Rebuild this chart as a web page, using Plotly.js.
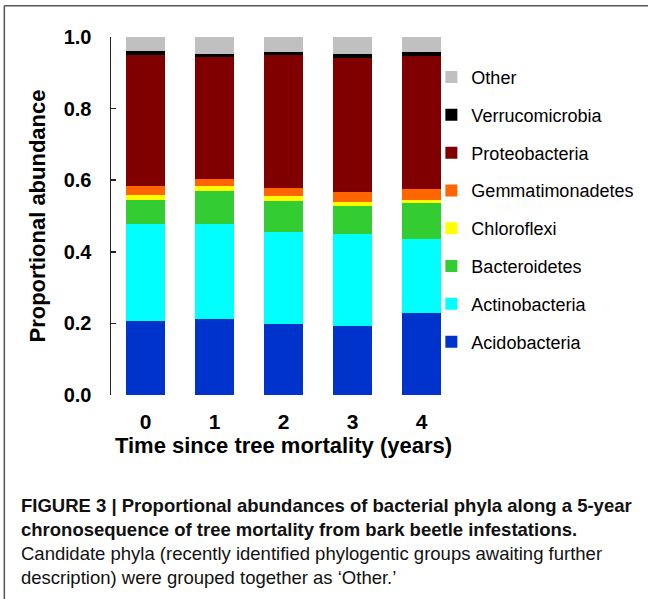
<!DOCTYPE html>
<html>
<head>
<meta charset="utf-8">
<script src="https://cdn.plot.ly/plotly-3.0.1.min.js"></script>
<style>
html,body{margin:0;padding:0;background:#fff;}
#chart{width:648px;height:599px;}
</style>
</head>
<body>
<div id="chart"></div>
<script>
const years = ['0', '1', '2', '3', '4'];
const phyla = ['Acidobacteria', 'Actinobacteria', 'Bacteroidetes', 'Chloroflexi',
               'Gemmatimonadetes', 'Proteobacteria', 'Verrucomicrobia', 'Other'];
const acidobacteria    = [0.207, 0.211, 0.199, 0.192, 0.230];
const actinobacteria   = [0.272, 0.268, 0.256, 0.258, 0.205];
const bacteroidetes    = [0.067, 0.092, 0.088, 0.077, 0.101];
const chloroflexi      = [0.013, 0.013, 0.013, 0.012, 0.010];
const gemmatimonadetes = [0.025, 0.020, 0.021, 0.028, 0.029];
const proteobacteria   = [0.367, 0.339, 0.374, 0.375, 0.371];
const verrucomicrobia  = [0.009, 0.010, 0.007, 0.011, 0.012];
const other            = [0.040, 0.047, 0.042, 0.047, 0.042];
const yTicks = [0, 0.2, 0.4, 0.6, 0.8, 1.0];
const yTickText = ['0.0', '0.2', '0.4', '0.6', '0.8', '1.0'];

const seriesValues = [acidobacteria, actinobacteria, bacteroidetes, chloroflexi,
                      gemmatimonadetes, proteobacteria, verrucomicrobia, other];
const colors = ['#0033CC', '#00FFFF', '#33CC33', '#FFFF00',
                '#FF6600', '#800000', '#000000', '#C0C0C0'];

const traces = phyla.map((name, i) => ({
  type: 'bar',
  name: name,
  x: years,
  y: seriesValues[i],
  legendgroup: name,
  legendrank: 1000 - i * 10,
  marker: {color: colors[i], line: {width: 0}},
  hoverinfo: 'name+y'
}));

const FONT = 'Liberation Sans, Arial, sans-serif';

const layout = {
  width: 648,
  height: 599,
  margin: {l: 111, r: 192.4, t: 37, b: 203.5, autoexpand: false},
  paper_bgcolor: '#ffffff',
  plot_bgcolor: '#ffffff',
  barmode: 'stack',
  bargap: 0.434,
  showlegend: true,
  legend: {
    x: 0.9286, xanchor: 'left',
    y: 0.939, yanchor: 'top',
    traceorder: 'grouped',
    tracegroupgap: 11.4,
    font: {family: FONT, size: 18, color: '#000'},
    bgcolor: 'rgba(0,0,0,0)',
    itemwidth: 30
  },
  xaxis: {
    type: 'category',
    range: [-0.5, 4.5],
    showline: false,
    showgrid: false,
    zeroline: false,
    ticks: '',
    tickfont: {family: FONT, size: 21, color: '#000', weight: 'bold'},
    ticklabelstandoff: 12,
    automargin: false,
    title: {
      text: 'Time since tree mortality (years)',
      font: {family: FONT, size: 22, color: '#000', weight: 'bold'},
      standoff: 2
    }
  },
  yaxis: {
    range: [0, 1],
    showline: true,
    linecolor: '#222',
    linewidth: 1.5,
    showgrid: false,
    zeroline: false,
    ticks: 'inside',
    ticklen: 5,
    tickwidth: 1.5,
    tickcolor: '#222',
    tickvals: yTicks,
    ticktext: yTickText,
    tickfont: {family: FONT, size: 20, color: '#000', weight: 'bold'},
    ticklabelstandoff: 14,
    automargin: false,
    title: {
      text: 'Proportional abundance',
      font: {family: FONT, size: 22, color: '#000', weight: 'bold'},
      standoff: 12
    }
  },
  shapes: [
    {type: 'line', xref: 'paper', yref: 'paper', x0: -0.3092, x1: 1.56, y0: 1.0872, y1: 1.0872,
     line: {color: '#555', width: 1.5}},
    {type: 'line', xref: 'paper', yref: 'paper', x0: -0.3092, x1: -0.3092, y0: 1.0872, y1: -0.6,
     line: {color: '#555', width: 1.5}}
  ],
  annotations: [
    {
      xref: 'paper', yref: 'paper',
      x: -0.266, xanchor: 'left',
      y: -0.2745, yanchor: 'top',
      align: 'left',
      showarrow: false,
      font: {family: FONT, size: 18.5, color: '#111'},
      text: '<b>FIGURE 3 | Proportional abundances of bacterial phyla along a 5-year<br>' +
            'chronosequence of tree mortality from bark beetle infestations.</b><br>' +
            'Candidate phyla (recently identified phylogentic groups awaiting further<br>' +
            'description) were grouped together as ‘Other.’'
    }
  ]
};

Plotly.newPlot('chart', traces, layout, {displayModeBar: false, staticPlot: true});
</script>
</body>
</html>
